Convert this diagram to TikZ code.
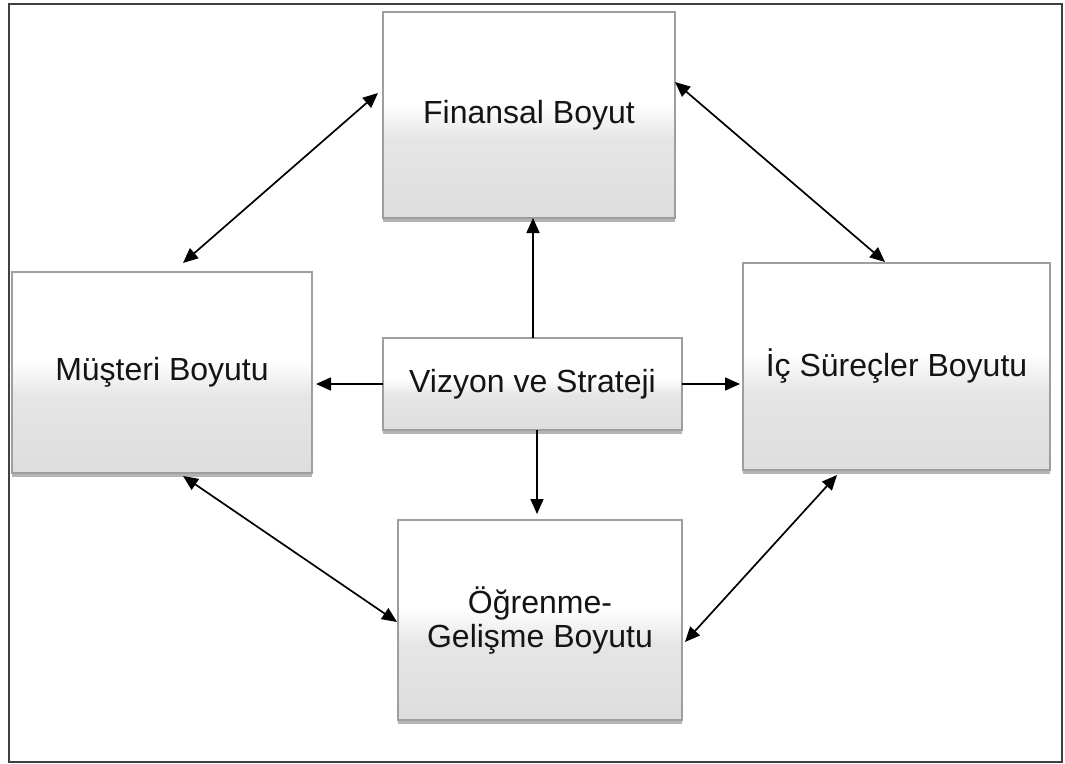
\documentclass[tikz,border=0pt]{standalone}
\usepackage{fontspec}
\setmainfont{Liberation Sans}
\usetikzlibrary{arrows.meta,calc,shadows}

% light bevelled box: white upper half, grey lower half
\pgfdeclareverticalshading{boxshade}{100bp}{%
  color(0bp)=(black!26); color(8bp)=(black!16); color(44bp)=(black!10);
  color(53bp)=(white); color(100bp)=(white)}

\tikzset{
  card/.style={rectangle, shading=boxshade, draw=black!38, line width=1.2pt,
    outer sep=0pt, inner sep=4pt, align=center, text=black!92,
    font=\fontsize{32}{34}\selectfont,
    drop shadow={shadow xshift=0pt, shadow yshift=-4pt, opacity=0.45, fill=black!65}},
  one/.style={line width=1.7pt, -{Triangle[length=15pt,width=13pt]}},
  dbl/.style={line width=1.7pt, {Triangle[length=15pt,width=13pt]}-{Triangle[length=15pt,width=13pt]}},
}

\begin{document}
\begin{tikzpicture}[x=1pt,y=-1pt]
  \useasboundingbox (0,0) rectangle (1065,763);
  \draw[black!75, line width=2pt] (9,4) rectangle (1062,762);

  \node[card, minimum width=292pt, minimum height=206pt] (fin) at (529,115) {Finansal Boyut};
  \node[card, minimum width=300pt, minimum height=201pt] (mus) at (162,372.5) {Müşteri Boyutu};
  \node[card, minimum width=299pt, minimum height=92pt]  (viz) at (532.5,384) {Vizyon ve Strateji};
  \node[card, minimum width=307pt, minimum height=207pt] (ic)  at (896.5,366.5) {İç Süreçler Boyutu};
  \node[card, minimum width=284pt, minimum height=200pt] (ogr) at (540,620) {Öğrenme-\\Gelişme Boyutu};

  % outward links from the vision box
  \draw[one] (viz.north -| 533,0) -- (fin.south -| 533,0);
  \draw[one] (viz.south -| 537,0) -- ($(ogr.north -| 537,0)+(0,-6)$);
  \draw[one] (viz.west |- 0,384) -- ($(mus.east |- 0,384)+(4,0)$);
  \draw[one] (viz.east |- 0,384) -- ($(ic.west |- 0,384)+(-3,0)$);

  % two-way links around the ring
  \draw[dbl] ($(fin.west |- 0,93)+(-5,0)$) -- ($(mus.north -| 183,0)+(0,-9)$);
  \draw[dbl] (fin.east |- 0,82) -- ($(ic.north -| 885,0)+(0,-1)$);
  \draw[dbl] ($(ic.south -| 837,0)+(0,5)$) -- ($(ogr.east |- 0,642)+(3,0)$);
  \draw[dbl] ($(mus.south -| 183,0)+(0,3)$) -- ($(ogr.west |- 0,622)+(-1,0)$);
\end{tikzpicture}
\end{document}
